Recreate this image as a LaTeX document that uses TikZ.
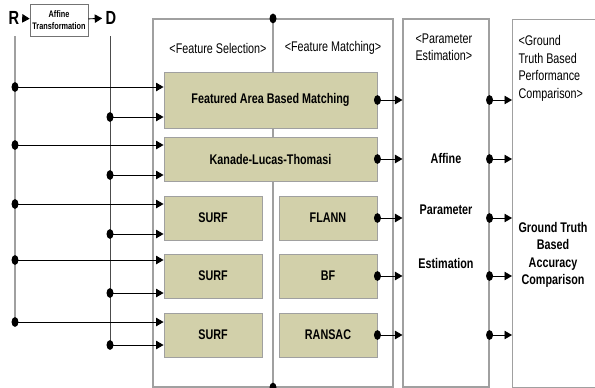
\documentclass[tikz,border=0pt]{standalone}
\usepackage{fontspec}
\setmainfont{Liberation Sans}[FakeStretch=0.77]
\usetikzlibrary{arrows.meta}

\definecolor{boxgreen}{RGB}{210,208,170}
\definecolor{framegray}{RGB}{160,160,160}

\begin{document}
\begin{tikzpicture}[x=1pt,y=-1pt,
    font=\fontsize{14}{17.5}\selectfont,
    wire/.style={draw=framegray,line width=1.2pt},
    conn/.style={draw=black,line width=0.9pt,-{Triangle[length=7.5pt,width=8.5pt]}},
    panel/.style={draw=framegray,line width=1.1pt,inner sep=0pt},
    algo/.style={draw=framegray,fill=boxgreen,line width=0.9pt,inner sep=0pt,
      font=\fontsize{14}{16}\selectfont\bfseries},
    bold/.style={font=\fontsize{14}{17.5}\selectfont\bfseries},
    big/.style={font=\fontsize{19}{19}\selectfont\bfseries}]

    \useasboundingbox (0,0) rectangle (595,388);
    \clip (0,0) rectangle (595,388);

    % input images and transform
    \node[big] (R) at (14,18) {R};
    \node[draw=black!55,line width=0.6pt,minimum width=58pt,minimum height=32pt,
      inner sep=0pt,align=center,font=\fontsize{9.5}{12}\selectfont\bfseries]
      (affine) at (59,20) {Affine\\Transformation};
    \node[big] (D) at (111,18) {D};

    \draw[conn] (R) to (affine);
    \draw[conn] (affine) to (D);

    \coordinate (rtop) at (15,36);
    \coordinate (dtop) at (110,36);

    \coordinate (r1) at (15,87);
    \coordinate (r2) at (15,145);
    \coordinate (r3) at (15,204);
    \coordinate (r4) at (15,260);
    \coordinate (r5) at (15,322);

    \coordinate (d1) at (110,117);
    \coordinate (d2) at (110,175);
    \coordinate (d3) at (110,234);
    \coordinate (d4) at (110,293);
    \coordinate (d5) at (110,345);

    \draw[wire] (rtop) -- (r5);
    \draw[draw=black!70,line width=0.9pt] (dtop) -- (d5);

    % outer panels
    \node[panel,minimum width=240pt,minimum height=368pt] (feat) at (273,203) {};
    \node[panel,minimum width=86pt,minimum height=368pt] (param) at (446,203) {};
    \node[panel,minimum width=110pt,minimum height=368pt,anchor=north west] (gt) at (512,19) {};

    \draw[wire] (feat.north) -- (feat.south);

    \node[] (seltitle) at (218,48) {<Feature Selection>};
    \node[] (mattitle) at (333,48) {<Feature Matching>};
    \node[align=left,anchor=north west] (partitle) at (412,30) {<Parameter\\Estimation>};
    \node[align=left,anchor=north west] (gttitle) at (515,32) {<Ground\\Truth Based\\Performance\\Comparison>};

    % algorithm boxes
    \node[algo,minimum width=213pt,minimum height=56pt] (fabm) at (270.5,100) {Featured Area Based Matching};
    \node[algo,minimum width=213pt,minimum height=44pt] (klt) at (270.5,159) {Kanade-Lucas-Thomasi};

    \node[algo,minimum width=98pt,minimum height=44pt] (surfA) at (213,218) {SURF};
    \node[algo,minimum width=98pt,minimum height=44pt] (surfB) at (213,276) {SURF};
    \node[algo,minimum width=98pt,minimum height=44pt] (surfC) at (213,335) {SURF};

    \node[algo,minimum width=98pt,minimum height=44pt] (flann) at (328,218) {FLANN};
    \node[algo,minimum width=98pt,minimum height=44pt] (bf) at (328,276) {BF};
    \node[algo,minimum width=98pt,minimum height=44pt] (ransac) at (328,335) {RANSAC};

    % parameter estimation and comparison
    \node[bold] (aff) at (446,158) {Affine};
    \node[bold] (par) at (446,210) {Parameter};
    \node[bold] (est) at (446,263) {Estimation};

    \node[bold,align=center] (gtacc) at (553,255) {Ground Truth\\Based\\Accuracy\\Comparison};

    % inputs
    \draw[conn] (r1) -- (r1 -| fabm.west);
    \draw[conn] (d1) -- (d1 -| fabm.west);
    \draw[conn] (r2) -- (r2 -| klt.west);
    \draw[conn] (d2) -- (d2 -| klt.west);
    \draw[conn] (r3) -- (r3 -| surfA.west);
    \draw[conn] (d3) -- (d3 -| surfA.west);
    \draw[conn] (r4) -- (r4 -| surfB.west);
    \draw[conn] (d4) -- (d4 -| surfB.west);
    \draw[conn] (r5) -- (r5 -| surfC.west);
    \draw[conn] (d5) -- (d5 -| surfC.west);

    % outputs
    \foreach \b in {fabm,klt,flann,bf,ransac} {
      \draw[conn] (\b.east) -- (\b.east -| param.west);
      \draw[conn] (\b.east -| param.east) -- (\b.east -| gt.west);
      \fill (\b.east) ellipse [x radius=3.5, y radius=4.9];
      \fill (\b.east -| param.east) ellipse [x radius=3.5, y radius=4.9];
    }

    \foreach \p in {r1,r2,r3,r4,r5,d1,d2,d3,d4,d5,feat.north,feat.south}
      \fill (\p) ellipse [x radius=3.5, y radius=4.9];
  \end{tikzpicture}
\end{document}
